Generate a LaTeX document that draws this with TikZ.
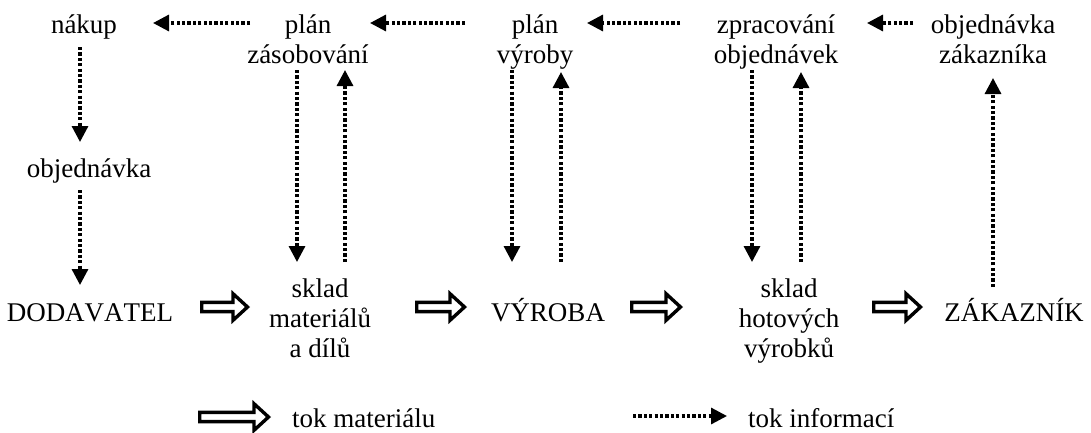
\documentclass[tikz,border=0pt]{standalone}
\usepackage{fontspec}
\setmainfont{Liberation Serif}[Kerning=Off]
\usetikzlibrary{arrows.meta}
\newcommand\stackc[1]{\vtop{\halign{\hfil##\hfil\cr#1\crcr}}}
\begin{document}
\begin{tikzpicture}[x=1pt,y=-1pt,
  lbl/.style={inner sep=0pt, anchor=base, font=\fontsize{27}{30}\selectfont},
  info/.style={line width=3.2pt, dash pattern=on 3.2pt off 2.2pt, -{Triangle[length=16pt,width=16pt]}},
  matline/.style={line width=3.4pt, line join=miter},
  pics/matarr/.style={code={
    \draw[matline] (1.7,-4.6) -- (#1-17,-4.6) -- (#1-17,-13.3) -- (#1-2.5,0)
      -- (#1-17,13.3) -- (#1-17,4.6) -- (1.7,4.6) -- cycle;}}]
\useasboundingbox (0,0) rectangle (1091,432);

% top row
\node[lbl] (nakup) at (84,33) {nákup};
\node[lbl] (pz) at (308,33) {\stackc{plán\cr zásobování}};
\node[lbl] (pv) at (535,33) {\stackc{plán\cr výroby}};
\node[lbl] (zo) at (776,33) {\stackc{zpracování\cr objednávek}};
\node[lbl] (oz) at (993,33) {\stackc{objednávka\cr zákazníka}};
% middle
\node[lbl] (obj) at (89,177) {objednávka};
% bottom row
\node[lbl] (dod) at (90,321) {DODAVATEL};
\node[lbl] (smd) at (320,297) {\stackc{sklad\cr materiálů\cr a dílů}};
\node[lbl] (vyr) at (548,321) {VÝROBA};
\node[lbl] (shv) at (789,297) {\stackc{sklad\cr hotových\cr výrobků}};
\node[lbl] (zak) at (1014,321) {ZÁKAZNÍK};
% legend
\node[lbl, anchor=base west] (ltm) at (292,427) {tok materiálu};
\node[lbl, anchor=base west] (lti) at (748,427) {tok informací};

% connector end points
\coordinate (h1s) at (250,23);  \coordinate (h1e) at (153,23);
\coordinate (h2s) at (465,23);  \coordinate (h2e) at (370,23);
\coordinate (h3s) at (680,23);  \coordinate (h3e) at (587,23);
\coordinate (h4s) at (913,23);  \coordinate (h4e) at (867,23);
\coordinate (n1s) at (80,47);   \coordinate (n1e) at (80,142);
\coordinate (n2s) at (80,190);  \coordinate (n2e) at (80,285);
\coordinate (pzd1) at (297,70); \coordinate (pzd2) at (297,262);
\coordinate (pzu1) at (345,262);\coordinate (pzu2) at (345,70);
\coordinate (pvd1) at (512,70); \coordinate (pvd2) at (512,262);
\coordinate (pvu1) at (561,262);\coordinate (pvu2) at (561,72);
\coordinate (zod1) at (752,70); \coordinate (zod2) at (752,262);
\coordinate (zou1) at (801,262);\coordinate (zou2) at (801,72);
\coordinate (ozu1) at (993,287);\coordinate (ozu2) at (993,78);
\coordinate (lis) at (633,416); \coordinate (lie) at (727,416);

% information flow
\draw[info] (h1s) -- (h1e);
\draw[info] (h2s) -- (h2e);
\draw[info] (h3s) -- (h3e);
\draw[info] (h4s) -- (h4e);
\draw[info] (n1s) -- (n1e);
\draw[info] (n2s) -- (n2e);
\draw[info] (pzd1) -- (pzd2);
\draw[info] (pzu1) -- (pzu2);
\draw[info] (pvd1) -- (pvd2);
\draw[info] (pvu1) -- (pvu2);
\draw[info] (zod1) -- (zod2);
\draw[info] (zou1) -- (zou2);
\draw[info] (ozu1) -- (ozu2);
\draw[info] (lis) -- (lie);

% material flow
\pic (m1) at (200,307) {matarr=50};
\pic (m2) at (415,307) {matarr=52};
\pic (m3) at (630,307) {matarr=53};
\pic (m4) at (872,307) {matarr=51};
\pic (ml) at (198,417) {matarr=73};
\end{tikzpicture}
\end{document}
